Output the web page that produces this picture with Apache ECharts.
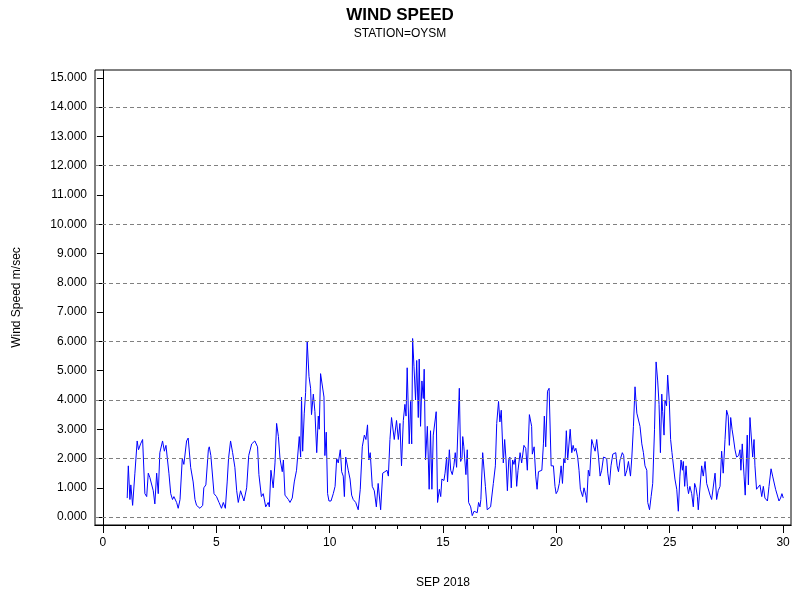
<!DOCTYPE html><html><head><meta charset="utf-8"><script src="https://cdn.jsdelivr.net/npm/echarts@6/dist/echarts.min.js"></script></head><body style="margin:0"><div id="c" style="width:800px;height:600px"></div><script>
const days=[1.07,1.12,1.19,1.23,1.31,1.41,1.51,1.57,1.66,1.75,1.85,1.93,2.0,2.07,2.15,2.22,2.29,2.37,2.44,2.51,2.63,2.71,2.78,2.91,2.99,3.07,3.13,3.25,3.32,3.4,3.5,3.57,3.69,3.76,3.87,3.98,4.06,4.13,4.28,4.4,4.45,4.54,4.65,4.69,4.76,4.9,5.01,5.12,5.23,5.31,5.4,5.48,5.54,5.63,5.72,5.82,5.9,5.97,6.07,6.22,6.34,6.43,6.56,6.7,
6.82,6.88,6.93,6.99,7.07,7.18,7.29,7.34,7.41,7.51,7.59,7.66,7.74,7.81,7.88,7.91,7.96,8.03,8.1,8.18,8.25,8.35,8.44,8.54,8.66,8.72,8.76,8.81,8.88,8.94,9.01,9.09,9.16,9.2,9.28,9.35,9.43,9.5,9.54,9.6,9.68,9.75,9.79,9.85,9.91,9.97,10.06,10.16,10.24,10.31,10.38,10.47,10.53,10.6,10.65,10.71,10.75,10.82,10.9,10.97,11.04,11.15,11.26,11.35,11.44,11.53,11.6,11.67,11.73,11.79,11.88,11.97,12.06,12.14,12.25,12.34,12.44,12.53,12.59,12.66,12.73,12.85,
12.95,13.03,13.1,13.17,13.25,13.32,13.37,13.42,13.51,13.57,13.62,13.66,13.72,13.79,13.84,13.91,13.95,14.01,14.07,14.13,14.17,14.23,14.31,14.39,14.45,14.51,14.57,14.65,14.7,14.76,14.84,14.9,14.95,15.04,15.09,15.16,15.2,15.28,15.34,15.41,15.48,15.54,15.6,15.72,15.78,15.84,15.87,15.92,15.98,16.01,16.07,16.13,16.22,16.29,16.37,16.45,16.51,16.57,16.63,16.67,16.75,16.79,16.87,16.95,17.03,17.1,17.22,17.31,17.37,17.45,17.51,17.57,17.66,17.72,17.78,17.84,17.9,17.95,18.01,18.07,18.13,18.19,18.25,18.31,18.4,18.47,18.57,18.65,18.72,18.81,
18.91,18.94,19.02,19.09,19.15,19.21,19.28,19.36,19.43,19.47,19.53,19.61,19.68,19.77,19.87,19.94,19.99,20.06,20.13,20.21,20.27,20.33,20.38,20.44,20.5,20.61,20.68,20.74,20.8,20.86,20.94,21.0,21.06,21.12,21.16,21.22,21.3,21.34,21.41,21.47,21.56,21.63,21.71,21.78,21.86,21.93,22.0,22.08,22.15,22.22,22.27,22.34,22.41,22.49,22.56,22.62,22.68,22.74,22.81,22.91,22.97,23.03,23.11,23.18,23.27,23.33,23.4,23.47,23.55,23.62,23.69,23.77,23.84,23.91,23.99,24.03,24.11,24.18,24.25,24.33,24.4,24.47,24.53,24.59,24.65,
24.69,24.75,24.79,24.86,24.91,24.98,25.04,25.1,25.16,25.23,25.31,25.38,25.45,25.5,25.56,25.6,25.66,25.72,25.78,25.83,25.89,25.97,26.04,26.1,26.16,26.22,26.26,26.33,26.41,26.48,26.56,26.63,26.7,26.78,26.85,26.92,27.0,27.07,27.14,27.22,27.29,27.36,27.44,27.51,27.58,27.63,27.69,27.75,27.81,27.88,27.95,28.04,28.1,28.14,28.2,28.28,28.33,28.42,28.47,28.54,28.6,28.66,28.72,28.76,28.83,28.91,28.98,29.06,29.13,29.2,29.31,29.38,29.47,29.54,29.6,29.67,29.75,29.82,29.89,29.95,30.01];
const speeds=[0.65,1.75,0.6,1.1,0.4,1.5,2.6,2.3,2.5,2.65,0.8,0.7,1.5,1.35,1.35,0.9,0.45,1.5,0.8,2.2,2.6,2.25,2.45,1.5,0.8,0.6,0.7,0.5,0.3,0.6,2.0,1.8,2.6,2.7,1.7,1.2,0.6,0.4,0.3,0.4,1.0,1.1,2.3,2.4,2.1,0.8,0.7,0.5,0.3,0.5,0.3,1.2,2.0,2.6,2.2,1.7,0.9,0.5,0.9,0.55,1.0,2.1,2.5,2.6,
2.4,1.45,1.5,0.7,0.8,0.35,0.5,0.35,1.6,1.0,1.85,3.2,2.75,2.0,2.0,1.55,1.95,0.75,0.8,0.6,0.5,0.65,1.2,1.6,2.75,2.05,4.1,2.25,3.55,4.25,6.0,4.8,4.4,3.5,4.2,3.6,2.2,3.45,3.0,4.9,4.85,4.1,2.1,2.9,0.8,0.55,0.55,0.8,1.05,2.0,1.85,2.3,1.55,1.4,0.7,2.05,2.0,1.6,1.3,0.75,0.6,0.5,0.25,0.95,2.4,2.8,2.65,3.15,1.95,2.2,1.05,0.9,0.35,1.15,0.25,1.5,1.55,1.6,1.4,2.65,3.4,2.65,
3.3,2.65,3.2,1.75,3.3,3.85,3.45,5.1,2.5,3.95,2.5,6.1,5.15,4.0,5.35,3.4,5.4,3.1,4.65,4.05,5.05,1.95,3.1,0.95,2.95,0.95,2.8,2.75,3.6,0.5,0.95,0.7,1.3,1.25,1.5,2.05,1.2,2.3,1.6,1.45,1.75,2.2,1.7,4.4,1.9,2.05,2.75,2.4,2.4,1.45,2.3,0.5,0.35,0.05,0.2,0.2,0.15,0.5,0.35,0.6,2.2,2.25,1.05,0.25,0.3,0.35,1.15,1.75,3.2,3.95,3.25,3.65,1.85,2.65,1.95,0.9,1.95,2.05,1.0,1.95,1.8,2.05,1.05,1.6,2.2,1.85,2.45,2.35,1.6,3.5,
3.1,2.15,2.4,1.4,0.95,1.55,1.5,1.6,2.5,3.45,2.4,4.3,4.4,1.75,1.75,1.05,0.8,0.9,1.15,1.75,1.15,2.0,1.85,2.95,1.95,3.0,2.2,2.45,2.25,2.35,2.05,1.6,0.95,1.0,0.7,1.0,0.75,0.5,1.6,1.4,2.65,2.45,2.25,2.65,2.05,1.4,1.6,2.05,2.0,2.0,1.5,1.1,1.75,2.15,2.1,2.2,1.75,1.55,1.95,2.2,2.1,1.4,1.6,1.9,1.4,2.05,3.1,4.45,3.55,3.5,3.1,2.5,2.2,1.75,1.6,0.5,0.25,0.7,1.15,3.0,5.3,4.65,3.85,2.2,4.2,
3.6,2.8,4.0,3.8,4.85,4.0,2.65,2.2,2.15,1.3,0.95,0.2,1.4,1.95,1.6,1.9,1.05,1.75,1.05,0.8,1.05,0.8,0.35,1.15,1.0,0.7,0.25,0.2,1.75,1.4,1.9,1.15,1.2,0.75,0.6,0.55,1.5,0.6,0.9,1.05,2.25,1.5,2.65,3.65,3.45,2.45,3.4,3.0,2.7,2.3,2.05,2.1,2.3,1.6,2.5,1.4,0.75,2.8,1.1,3.4,3.45,2.05,2.65,1.75,0.95,1.0,1.1,0.7,1.05,0.65,0.55,1.05,1.65,1.4,1.4,0.95,0.9,0.55,0.65,0.8,0.65];
const xMajor=[0,5,10,15,20,25,30];
const xMinor=[0,1,2,3,4,5,6,7,8,9,10,11,12,13,14,15,16,17,18,19,20,21,22,23,24,25,26,27,28,29,30];
const yTicks=[0,1,2,3,4,5,6,7,8,9,10,11,12,13,14,15];
const yGrid=[0,2,4,6,8,10,12,14];
const F='Liberation Sans, Arial, sans-serif';
const ch=echarts.init(document.getElementById('c'));
const xBase={type:'value',min:-0.35,max:30.35,splitLine:{show:false},axisLine:{onZero:false,lineStyle:{color:'#000'}}};
ch.setOption({
 animation:false,
 title:{text:'WIND SPEED',subtext:'STATION=OYSM',left:'center',top:2,itemGap:4,textStyle:{fontFamily:F,fontSize:17,fontWeight:'bold',color:'#000'},subtextStyle:{fontFamily:F,fontSize:12,color:'#000'}},
 grid:{left:95,right:9,top:70,bottom:75,show:true,borderColor:'#000',borderWidth:1},
 xAxis:[
  Object.assign({},xBase,{name:'SEP 2018',nameLocation:'middle',nameGap:52,nameTextStyle:{fontFamily:F,fontSize:12,color:'#000'},
   axisTick:{customValues:xMajor,length:8,lineStyle:{color:'#000'}},axisLabel:{customValues:xMajor,fontFamily:F,fontSize:12,color:'#000',margin:12}}),
  Object.assign({},xBase,{position:'bottom',axisTick:{customValues:xMinor,length:4,lineStyle:{color:'#000'}},axisLabel:{show:false}})
 ],
 yAxis:{type:'value',min:-0.27,max:15.27,name:'Wind Speed m/sec',nameLocation:'middle',nameGap:72,nameTextStyle:{fontFamily:F,fontSize:12,color:'#000'},
  splitLine:{show:false},axisLine:{show:true,lineStyle:{color:'#000'}},
  axisTick:{customValues:yTicks,length:6,lineStyle:{color:'#000'}},
  axisLabel:{customValues:yTicks,fontFamily:F,fontSize:12,color:'#000',formatter:v=>v.toFixed(3)}},
 series:[{type:'line',xAxisIndex:0,data:days.map((d,i)=>[d,speeds[i]]),symbol:'none',lineStyle:{color:'#0000ff',width:1},
  markLine:{silent:true,symbol:'none',label:{show:false},lineStyle:{color:'#808080',type:[4,3],width:1},data:yGrid.map(v=>({yAxis:v}))}}]
});
</script></body></html>
